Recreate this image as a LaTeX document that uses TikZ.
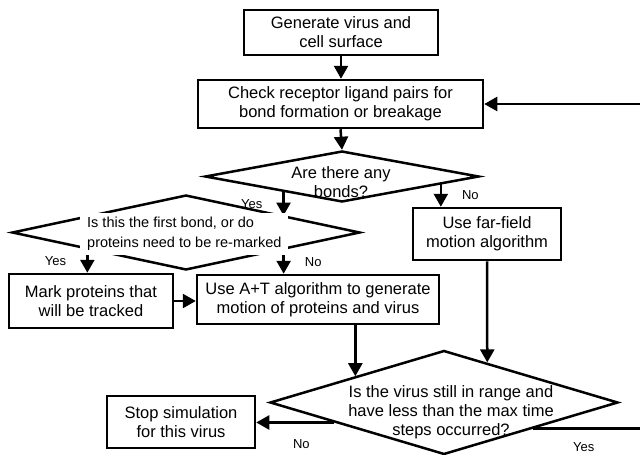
\documentclass[tikz,border=0pt]{standalone}
\usepackage{fontspec}
\setmainfont{Liberation Sans}
\usetikzlibrary{shapes,arrows.meta,positioning,calc}

\begin{document}
\begin{tikzpicture}[x=1pt,y=-1pt]
\tikzstyle{process} = [rectangle, draw=black, line width=2.5pt, align=center, inner sep=0pt, font=\fontsize{16.5}{19}\selectfont]
\tikzstyle{decision} = [diamond, draw=black, line width=2.5pt, inner sep=0pt]
\tikzstyle{question} = [align=center, inner sep=0pt, font=\fontsize{16.5}{19}\selectfont]
\tikzstyle{answer} = [inner sep=0pt, font=\fontsize{13}{15}\selectfont]
\tikzstyle{arrow} = [line width=2.5pt,-{Triangle[length=13pt,width=14pt]}]

\useasboundingbox (0,0) rectangle (640,455);
\clip (0,0) rectangle (640,455);

\node (generate) [process, minimum width=194pt, minimum height=45pt] at (341,32.5) {Generate virus and\\cell surface};
\node (check) [process, minimum width=285pt, minimum height=48pt] at (340.5,104) {Check receptor ligand pairs for\\bond formation or breakage};
\node (bonds) [decision, minimum width=274pt, minimum height=51pt] at (342,176.5) {};
\node (bondstxt) [question] at (341,182) {Are there any\\bonds?};
\node (firstbond) [decision, minimum width=348pt, minimum height=75pt] at (186,232.5) {};
\node (farfield) [process, minimum width=148pt, minimum height=52pt] at (487,234) {Use far-field\\motion algorithm};
\node (mark) [process, minimum width=164pt, minimum height=54pt] at (91,301) {Mark proteins that\\will be tracked};
\node (atmotion) [process, minimum width=242pt, minimum height=49pt] at (318,299.5) {Use A+T algorithm to generate\\motion of proteins and virus};
\node (inrange) [decision, minimum width=348pt, minimum height=104pt] at (444,402.5) {};
\node (inrangetxt) [question] at (451,412) {Is the virus still in range and\\have less than the max time\\steps occurred?};
\node (stop) [process, minimum width=148pt, minimum height=52pt] at (181,422) {Stop simulation\\for this virus};

% points on the diamond edges
\coordinate (yesA) at ($(bonds.west)!0.577!(bonds.south)$);
\coordinate (noA) at ($(bonds.south)!0.715!(bonds.east)$);
\coordinate (yesAin) at ($(firstbond.north)!0.563!(firstbond.east)$);
\coordinate (yesB) at ($(firstbond.west)!0.437!(firstbond.south)$);
\coordinate (noB) at ($(firstbond.south)!0.557!(firstbond.east)$);
\coordinate (motionin) at ($(inrange.west)!0.494!(inrange.north)$);
\coordinate (farfieldin) at ($(inrange.north)!0.247!(inrange.east)$);
\coordinate (noC) at ($(inrange.west)!0.375!(inrange.south)$);
\coordinate (yesC) at ($(inrange.east)!0.49!(inrange.south)$);

\draw [arrow] (generate.south) -- (generate.south |- check.north);
\draw [arrow] (check.south) -- (bonds.north);
\draw [arrow] (yesA) -- node[answer, left=20pt] {Yes} (yesA |- yesAin);
\draw [arrow] (noA) -- node[answer, right=20pt] {No} (noA |- farfield.north);
\draw [arrow] (yesB) -- node[answer, left=20pt] {Yes} (yesB |- mark.north);
\draw [arrow] (noB) -- node[answer, right=20pt] {No} (noB |- atmotion.north);
\draw [arrow] (mark.east) -- (mark.east -| atmotion.west);
\draw [arrow] (motionin |- atmotion.south) -- (motionin);
\draw [arrow] (farfield.south) -- (farfieldin);
\draw [arrow] (noC) -- node[answer, below=16pt, xshift=6pt] {No} (noC -| stop.east);
\draw [arrow] (yesC) -- node[answer, pos=0.42, below=13pt] {Yes} ++(120,0) |- (check.east);

\node (firstbondtxt) [anchor=west, align=left, fill=white, inner xsep=7pt, inner ysep=4pt, font=\fontsize{14.5}{20}\selectfont] at (80,234) {Is this the first bond, or do\\proteins need to be re-marked};

\end{tikzpicture}
\end{document}
